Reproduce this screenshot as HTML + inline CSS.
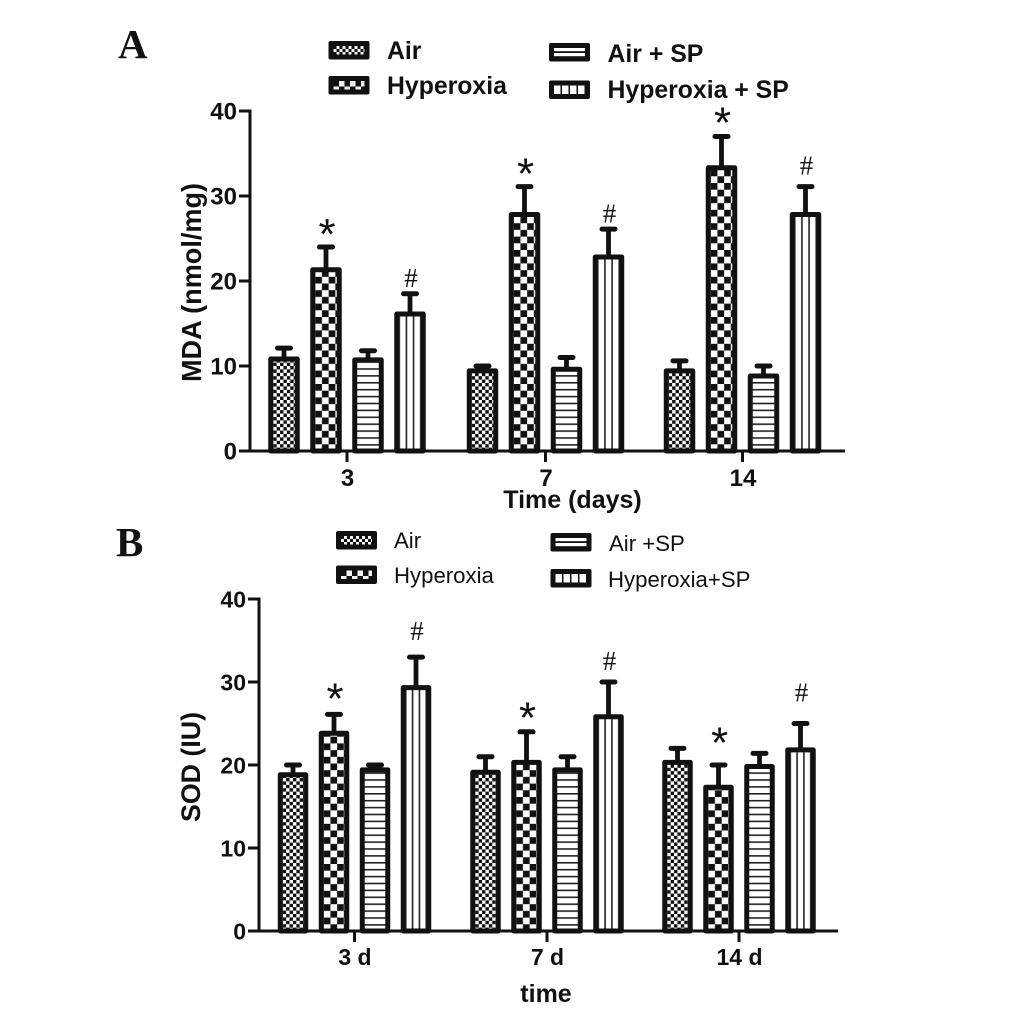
<!DOCTYPE html>
<html>
<head>
<meta charset="utf-8">
<style>
html,body{margin:0;padding:0;background:#fff;width:1033px;height:1015px;overflow:hidden}
svg{display:block}
text{fill:#111;font-family:"Liberation Sans",sans-serif}
</style>
</head>
<body>
<svg id="figure" xmlns="http://www.w3.org/2000/svg" width="1033" height="1015" viewBox="0 0 1033 1015">
  <defs id="defs"></defs>
  <text x="118" y="58" style="font-family:'Liberation Serif',serif;font-weight:bold;font-size:41px">A</text>
  <text x="116" y="556" style="font-family:'Liberation Serif',serif;font-weight:bold;font-size:41px">B</text>
  <g id="panelA"></g>
  <g id="panelB"></g>
</svg>
<script>
// Panel A data (MDA)
const categoriesA = ['3', '7', '14'];
const seriesNamesA = ['Air', 'Hyperoxia', 'Air + SP', 'Hyperoxia + SP'];
const meansA = [
  [11, 9.6, 9.6],
  [21.5, 28, 33.5],
  [10.9, 9.8, 9],
  [16.3, 23, 28]
];
const errorsA = [
  [1.1, 0.4, 1],
  [2.5, 3.1, 3.5],
  [0.9, 1.2, 1],
  [2.2, 3.1, 3.1]
];
const yTicksA = [0, 10, 20, 30, 40];
// Panel B data (SOD)
const categoriesB = ['3 d', '7 d', '14 d'];
const seriesNamesB = ['Air', 'Hyperoxia', 'Air +SP', 'Hyperoxia+SP'];
const meansB = [
  [19, 19.3, 20.5],
  [24, 20.5, 17.5],
  [19.6, 19.6, 20],
  [29.5, 26, 22]
];
const errorsB = [
  [1, 1.7, 1.5],
  [2.1, 3.5, 2.5],
  [0.4, 1.4, 1.4],
  [3.5, 4, 3]
];
const yTicksB = [0, 10, 20, 30, 40];
// Significance marks: symbol by series, clearance above the error cap in value units
const sigSymbols = ['', '*', '', '#'];
const sigClearA = [
  [0, 0, 0],
  [1.75, 1.75, 1.85],
  [0, 0, 0],
  [0.9, 0.9, 1.55]
];
const sigClearB = [
  [0, 0, 0],
  [2.1, 1.9, 2.9],
  [0, 0, 0],
  [2.15, 1.55, 2.75]
];

const NS = 'http://www.w3.org/2000/svg';
const defs = document.getElementById('defs');
function mk(tag, attrs, parent) {
  const el = document.createElementNS(NS, tag);
  for (const k in attrs) el.setAttribute(k, attrs[k]);
  if (parent) parent.appendChild(el);
  return el;
}
let pid = 0;
function makePattern(kind, ox, oy, innerW) {
  const id = 'p' + (pid++);
  let w, h;
  if (kind === 0) { w = 6.8; h = 6.8; }
  if (kind === 1) { w = 13.4; h = 13.4; }
  if (kind === 2) { w = 20; h = 6.9; }
  if (kind === 3) { w = innerW / 3; h = 20; }
  const p = mk('pattern', {id: id, patternUnits: 'userSpaceOnUse', width: w, height: h,
    patternTransform: 'translate(' + ox + ' ' + oy + ')'}, defs);
  mk('rect', {x: 0, y: 0, width: w, height: h, fill: '#fff'}, p);
  if (kind === 0 || kind === 1) {
    mk('rect', {x: 0, y: 0, width: w / 2, height: h / 2, fill: '#111'}, p);
    mk('rect', {x: w / 2, y: h / 2, width: w / 2, height: h / 2, fill: '#111'}, p);
  }
  if (kind === 2) mk('rect', {x: 0, y: 0, width: w, height: 1.6, fill: '#222'}, p);
  if (kind === 3) {
    mk('rect', {x: -0.8, y: 0, width: 1.6, height: h, fill: '#222'}, p);
    mk('rect', {x: w - 0.8, y: 0, width: 1.6, height: h, fill: '#222'}, p);
  }
  return 'url(#' + id + ')';
}
function drawSwatch(parent, kind, x, y) {
  mk('rect', {x: x, y: y, width: 41, height: 18.5, rx: 2, fill: '#111'}, parent);
  if (kind === 0 || kind === 1) {
    const c = kind === 0 ? 3 : 5.5;
    const id = 'p' + (pid++);
    const p = mk('pattern', {id: id, patternUnits: 'userSpaceOnUse', width: c * 2, height: c * 2,
      patternTransform: 'translate(' + (x + 5) + ' ' + (y + 5) + ')'}, defs);
    mk('rect', {x: 0, y: 0, width: c * 2, height: c * 2, fill: '#f4f4f4'}, p);
    mk('rect', {x: 0, y: 0, width: c, height: c, fill: '#111'}, p);
    mk('rect', {x: c, y: c, width: c, height: c, fill: '#111'}, p);
    mk('rect', {x: x + 5, y: y + 5, width: 31, height: 8.5, fill: 'url(#' + id + ')'}, parent);
  }
  if (kind === 2) {
    mk('rect', {x: x + 5, y: y + 5, width: 31, height: 3.2, fill: '#fff'}, parent);
    mk('rect', {x: x + 5, y: y + 10, width: 31, height: 3.2, fill: '#fff'}, parent);
  }
  if (kind === 3) {
    for (let i = 0; i < 4; i++) {
      mk('rect', {x: x + 5 + i * 8, y: y + 5, width: 6.5, height: 8.5, fill: '#fff'}, parent);
    }
  }
}

function drawPanel(root, o) {
  const yScale = function (v) { return o.y0 + (o.yTop - o.y0) * v / 40; };
  const xCenter = function (c, s) { return o.ticksX[c] + (s - 1.5) * o.step; };

  // bars, error bars and significance marks
  o.means.forEach(function (vals, s) {
    vals.forEach(function (v, c) {
      const cx = xCenter(c, s);
      const sw = 5;
      const left = cx - o.barW / 2 + sw / 2;
      const innerW = o.barW - sw * 2;
      const top = yScale(v);
      const capY = yScale(v + o.errors[s][c]);

      const stem = mk('line', {x1: cx, x2: cx, y1: top, y2: capY, stroke: '#111', 'stroke-width': 4.8}, root);
      
      
      const cap = mk('line', {x1: cx - 6.5, x2: cx + 6.5, y1: capY, y2: capY, stroke: '#111', 'stroke-width': 5, 'stroke-linecap': 'round'}, root);
      
      

      const fill = makePattern(s, left + sw / 2, o.y0, innerW);
      const bar = mk('rect', {x: left, y: top + 1.5, width: o.barW - sw, height: Math.max(0, o.y0 - top - 1.5),
        fill: fill, stroke: '#111', 'stroke-width': sw, 'stroke-linejoin': 'round'}, root);
      
      

      const sym = sigSymbols[s];
      if (sym) {
        const markY = capY - (o.y0 - yScale(o.clear[s][c])) - 8;
        const size = sym === '*' ? 44 : 27;
        const off = sym === '*' ? 0.56 * size : 0.33 * size;
        const mark = mk('text', {x: cx + 1, y: markY + off, 'text-anchor': 'middle'}, root);
        mark.style.fontSize = size + 'px';
        mark.style.fontFamily = sym === '*' ? '"Liberation Sans",sans-serif' : '"Liberation Serif",serif';
        mark.textContent = sym;
        
        
      }
    });
  });

  // axes
  const yAxis = mk('line', {x1: o.axisX, x2: o.axisX, y1: yScale(40) - 1.5, y2: o.y0 + 1.5, stroke: '#111', 'stroke-width': 3}, root);
  
  
  const xAxis = mk('line', {x1: o.axisX - 1.5, x2: o.xEnd, y1: o.y0, y2: o.y0, stroke: '#111', 'stroke-width': 3}, root);
  
  

  o.yTicks.forEach(function (t) {
    const ty = yScale(t);
    const tick = mk('line', {x1: o.axisX - 11, x2: o.axisX, y1: ty, y2: ty, stroke: '#111', 'stroke-width': 3}, root);
    
    
    const lab = mk('text', {x: o.axisX - 13, y: ty + 8.5, 'text-anchor': 'end'}, root);
    lab.style.fontSize = o.tickFont + 'px';
    lab.style.fontWeight = 'bold';
    lab.textContent = String(t);
    
    
  });

  o.categories.forEach(function (cat, c) {
    const tx = o.ticksX[c];
    const tick = mk('line', {x1: tx, x2: tx, y1: o.y0, y2: o.y0 + 11, stroke: '#111', 'stroke-width': 3}, root);
    
    
    const lab = mk('text', {x: tx + 0.5, y: o.catLabelY, 'text-anchor': 'middle'}, root);
    lab.style.fontSize = o.tickFont + 'px';
    lab.style.fontWeight = 'bold';
    lab.textContent = cat;
    
    
  });

  // axis titles
  const xt = mk('text', {x: o.xTitleX, y: o.xTitleY, 'text-anchor': 'middle'}, root);
  xt.style.fontSize = '25px';
  xt.style.fontWeight = 'bold';
  xt.textContent = o.xTitle;
  
  

  const yt = mk('text', {transform: 'translate(' + o.yTitleX + ' ' + o.yTitleBottom + ') rotate(-90)',
    textLength: o.yTitleLen, lengthAdjust: 'spacingAndGlyphs'}, root);
  yt.style.fontSize = o.yTitleFont + 'px';
  yt.style.fontWeight = 'bold';
  yt.textContent = o.yTitle;
  
  

  // legend
  const legend = mk('g', {}, root);
  
  
  o.seriesNames.forEach(function (name, s) {
    const e = o.legend[s];
    const g = mk('g', {}, legend);
    
    
    drawSwatch(g, s, e[0], e[1]);
    const t = mk('text', {x: e[2], y: e[3]}, g);
    t.style.fontSize = o.legendFont + 'px';
    t.style.fontWeight = o.legendWeight;
    t.textContent = name;
  });
}

drawPanel(document.getElementById('panelA'), {
  categories: categoriesA, seriesNames: seriesNamesA, means: meansA, errors: errorsA, clear: sigClearA, yTicks: yTicksA,
  y0: 451, yTop: 111, axisX: 250, xEnd: 845, ticksX: [347, 545.5, 742.5], step: 42, barW: 31.5,
  tickFont: 24, catLabelY: 486,
  xTitle: 'Time (days)', xTitleX: 572.5, xTitleY: 508,
  yTitle: 'MDA (nmol/mg)', yTitleX: 201, yTitleBottom: 382, yTitleLen: 199, yTitleFont: 28,
  legendFont: 24.8, legendWeight: 'bold',
  legend: [[328.5, 41, 387, 59], [328.5, 76, 387, 94], [549, 43, 607.5, 62], [549, 80.5, 607.5, 98]]
});
drawPanel(document.getElementById('panelB'), {
  categories: categoriesB, seriesNames: seriesNamesB, means: meansB, errors: errorsB, clear: sigClearB, yTicks: yTicksB,
  y0: 931, yTop: 599, axisX: 259, xEnd: 838, ticksX: [354.5, 547, 739], step: 41, barW: 30.5,
  tickFont: 23, catLabelY: 965,
  xTitle: 'time', xTitleX: 546, xTitleY: 1002,
  yTitle: 'SOD (IU)', yTitleX: 200, yTitleBottom: 822, yTitleLen: 110, yTitleFont: 27,
  legendFont: 22.2, legendWeight: 'normal',
  legend: [[336, 531, 394, 548], [336, 565.5, 394, 583], [550.5, 533, 609, 551], [550.5, 569, 608, 587]]
});
</script>
</body>
</html>
